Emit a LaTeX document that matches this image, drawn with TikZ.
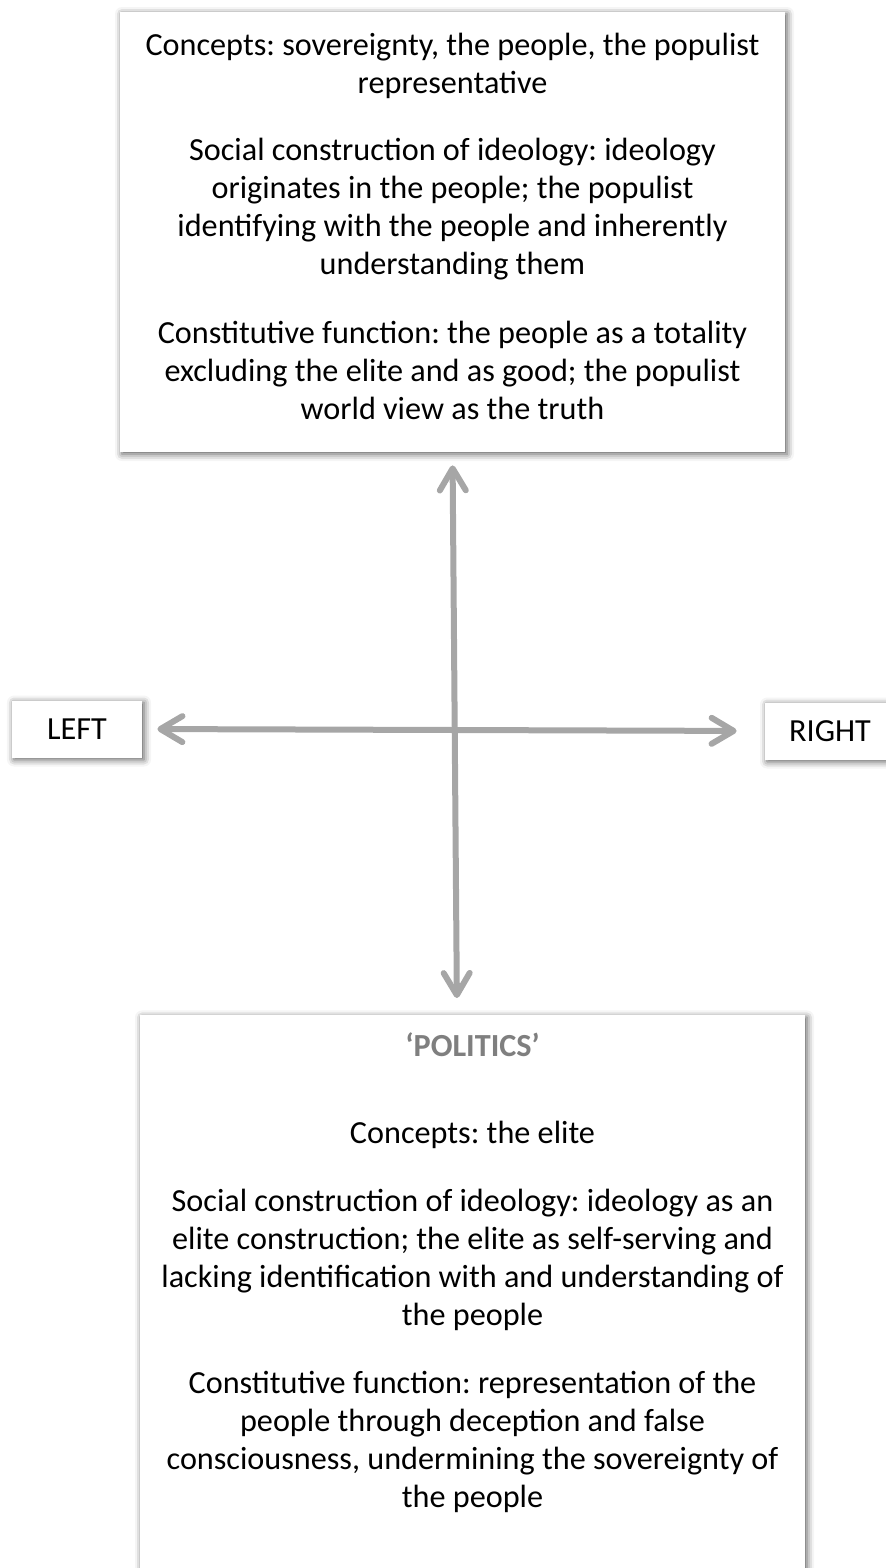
\documentclass[tikz,border=0pt]{standalone}
\usepackage{fontspec}
\setmainfont{Carlito}
\usepackage{tikz}
\usetikzlibrary{arrows.meta}
\usetikzlibrary{shadows.blur}

\definecolor{axisgray}{HTML}{A6A6A6}
\definecolor{headgray}{HTML}{7F7F7F}

\tikzset{
    shadowbox/.style={fill=white, blur shadow={shadow xshift=1pt, shadow yshift=-1pt, shadow blur radius=3.5pt, shadow opacity=65}},
    textbox/.style={shadowbox, align=center, minimum width=332.5pt, inner xsep=0pt, font=\fontsize{16.1}{19}\selectfont},
    sidebox/.style={shadowbox, minimum width=65pt, minimum height=28.5pt, inner sep=0pt, font=\fontsize{16.1}{19}\selectfont},
    axisarrow/.style={draw=axisgray, line width=3pt, {Straight Barb[round, length=11pt, width=13pt]}-{Straight Barb[round, length=11pt, width=13pt]}}
}

\begin{document}
\frenchspacing
\begin{tikzpicture}[x=0.5pt, y=-0.5pt]
        \useasboundingbox (0,0) rectangle (885,1568);

        \node[textbox, minimum height=220pt, inner ysep=0pt] (ideology) at (452.5,232) {Concepts: sovereignty, the people, the populist\\ representative\\[14.5pt]
            Social construction of ideology: ideology\\ originates in the people; the populist\\ identifying with the people and inherently\\ understanding them\\[15.5pt]
            Constitutive function: the people as a totality\\ excluding the elite and as good; the populist\\ world view as the truth\\[-13pt]\mbox{}};

        \node[textbox, anchor=north, inner ysep=8.5pt] (politics) at (472.5,1015) {\textcolor{headgray}{\textbf{‘POLITICS’}}\\[24.5pt]
            Concepts: the elite\\[15pt]
            Social construction of ideology: ideology as an\\ elite construction; the elite as self-serving and\\ lacking identification with and understanding of\\ the people\\[15pt]
            Constitutive function: representation of the\\ people through deception and false\\ consciousness, undermining the sovereignty of\\ the people\\[40pt]~};

        \node[sidebox] (left) at (77,729) {LEFT};
        \node[sidebox] (right) at (830,731) {RIGHT};

        \draw[axisarrow, shorten <=7.5pt, shorten >=14pt] (left.east) -- (right.west);
        \draw[axisarrow, shorten <=6.5pt, shorten >=8.5pt] (ideology.south) -- ([xshift=-7.75pt]politics.north);

    \end{tikzpicture}
\end{document}
